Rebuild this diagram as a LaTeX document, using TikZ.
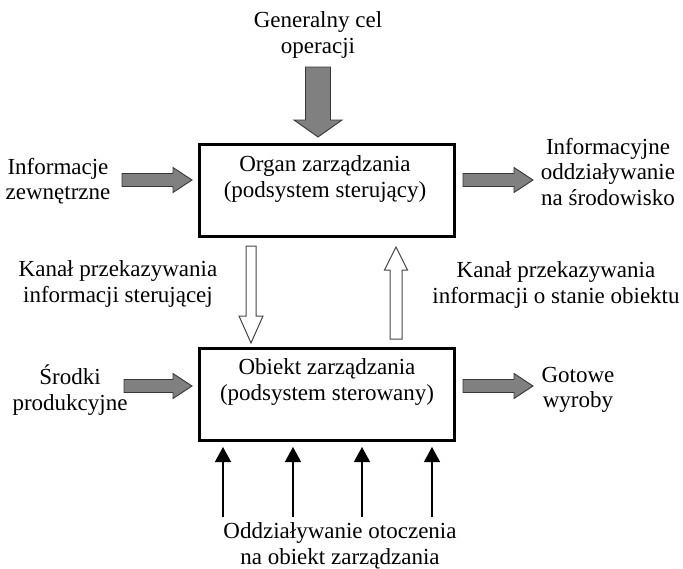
\documentclass[tikz,border=0pt]{standalone}
\usepackage{fontspec}
\setmainfont{Liberation Serif}
\usetikzlibrary{calc,arrows.meta}
\definecolor{arrowgrey}{RGB}{128,128,128}
\definecolor{arrowedge}{RGB}{55,55,55}
\definecolor{hollowedge}{RGB}{70,70,70}
% block arrow: [style]{from}{to}{shaft half width}{head half width}{head length}
\newcommand\blockarrow[6][]{%
  \draw[#1] ($(#2)!#4!90:(#3)$) -- ($($(#3)!#6!(#2)$)!#4!90:(#3)$)
    -- ($($(#3)!#6!(#2)$)!#5!90:(#3)$) -- (#3)
    -- ($($(#3)!#6!(#2)$)!#5!-90:(#3)$) -- ($($(#3)!#6!(#2)$)!#4!-90:(#3)$)
    -- ($(#2)!#4!-90:(#3)$) -- cycle;}
\begin{document}
\begin{tikzpicture}[x=1pt,y=-1pt,
  lbl/.style={align=center, font=\fontsize{23}{25.5}\selectfont, inner sep=0pt},
  box/.style={draw, line width=3pt, minimum width=255pt, minimum height=92pt, inner sep=0pt},
  grey/.style={fill=arrowgrey, draw=arrowedge, line width=0.9pt, line join=miter},
  hollow/.style={fill=white, draw=hollowedge, line width=1pt, line join=miter},
  envarrow/.style={line width=1.3pt, -{Triangle[length=15pt,width=16pt]}, shorten >=5pt}]
\useasboundingbox (0,0) rectangle (683,568);

% boxes and texts
\node[box] (top) at (327,190) {};
\node[lbl] (toptxt) at (325,179) {Organ zarządzania\\(podsystem sterujący)};
\node[box] (bot) at (327,394.5) {};
\node[lbl] (bottxt) at (327,382) {Obiekt zarządzania\\(podsystem sterowany)};

\node[lbl] (goal) at (318,35) {Generalny cel\\operacji};
\node[lbl] (infz) at (58,181) {Informacje\\zewnętrzne};
\node[lbl] (infout) at (608,172) {Informacyjne\\oddziaływanie\\na środowisko};
\node[lbl] (kan1) at (118,284) {Kanał przekazywania\\informacji sterującej};
\node[lbl] (kan2) at (556,285) {Kanał przekazywania\\informacji o stanie obiektu};
\node[lbl] (srodki) at (70,390) {Środki\\produkcyjne};
\node[lbl] (gotowe) at (578,390) {Gotowe\\wyroby};
\node[lbl] (otocz) at (340,546) {Oddziaływanie otoczenia\\na obiekt zarządzania};

% arrow end points
\coordinate (g1) at (318,67);   \coordinate (g2) at (318,137);
\coordinate (a1) at (122,180);  \coordinate (a2) at (192,180);
\coordinate (b1) at (463,180);  \coordinate (b2) at (533,180);
\coordinate (c1) at (124,386);  \coordinate (c2) at (192,386);
\coordinate (d1) at (463,386);  \coordinate (d2) at (533,386);
\coordinate (h1) at (251,246);  \coordinate (h2) at (251,343);
\coordinate (u1) at (396,339);  \coordinate (u2) at (396,247);

% grey block arrows
\blockarrow[grey]{g1}{g2}{12.5pt}{24pt}{17pt}
\blockarrow[grey]{a1}{a2}{6.5pt}{12.5pt}{19pt}
\blockarrow[grey]{b1}{b2}{6.5pt}{12.5pt}{19pt}
\blockarrow[grey]{c1}{c2}{6.5pt}{12.5pt}{19pt}
\blockarrow[grey]{d1}{d2}{6.5pt}{12.5pt}{19pt}

% hollow channel arrows
\blockarrow[hollow]{h1}{h2}{5pt}{12pt}{27pt}
\blockarrow[hollow]{u1}{u2}{6pt}{11.5pt}{23pt}

% environment influence arrows
\foreach \i/\x in {1/223,2/293,3/362,4/432}{
  \coordinate (e\i) at (\x,517);
  \draw[envarrow] (e\i) -- (e\i |- bot.south);
}
\end{tikzpicture}
\end{document}
